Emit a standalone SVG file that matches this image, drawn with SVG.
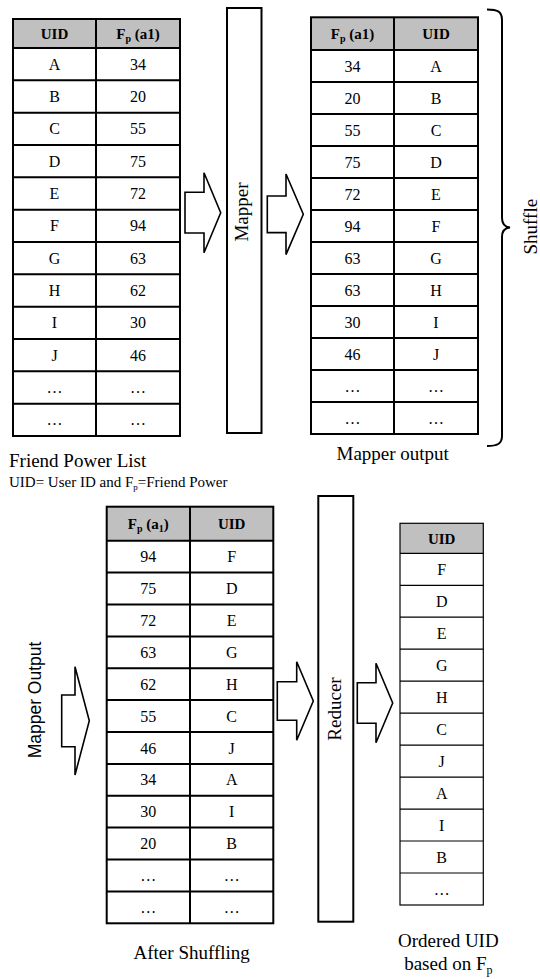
<svg xmlns="http://www.w3.org/2000/svg" width="540" height="979" viewBox="0 0 540 979">
<style>
text{font-family:"Liberation Serif","Times New Roman",serif;fill:#000}
.c{font-size:16px;text-anchor:middle}
.h{font-size:15px;font-weight:bold;text-anchor:middle}
.lbl{font-size:19px}
.box{fill:#fff;stroke:#000;stroke-width:2}
.hd{fill:#c0c0c0;stroke:none}
.ln{stroke:#000;stroke-width:2;fill:none}
.ln1{stroke:#000;stroke-width:1.2;fill:none}
.arr{fill:#fff;stroke:#000;stroke-width:1.6;stroke-linejoin:miter}
</style>

<!-- Table 1: Friend Power List -->
<g id="table-friend-power">
  <rect x="13" y="19" width="167" height="29" class="hd"/>
  <rect x="13" y="19" width="167" height="417" class="ln"/>
  <path class="ln" d="M96 19V436 M13 48H180 M13 80.3H180 M13 112.7H180 M13 145H180 M13 177.3H180 M13 209.7H180 M13 242H180 M13 274.3H180 M13 306.7H180 M13 339H180 M13 371.3H180 M13 403.7H180"/>
  <text class="h" x="54.5" y="39">UID</text>
  <text class="h" x="138" y="39">F<tspan font-size="10" dy="3">p</tspan><tspan dy="-3"> (a1)</tspan></text>
  <text class="c" x="54.5" y="69.7">A</text><text class="c" x="138" y="69.7">34</text>
  <text class="c" x="54.5" y="102">B</text><text class="c" x="138" y="102">20</text>
  <text class="c" x="54.5" y="134.3">C</text><text class="c" x="138" y="134.3">55</text>
  <text class="c" x="54.5" y="166.7">D</text><text class="c" x="138" y="166.7">75</text>
  <text class="c" x="54.5" y="199">E</text><text class="c" x="138" y="199">72</text>
  <text class="c" x="54.5" y="231.3">F</text><text class="c" x="138" y="231.3">94</text>
  <text class="c" x="54.5" y="263.7">G</text><text class="c" x="138" y="263.7">63</text>
  <text class="c" x="54.5" y="296">H</text><text class="c" x="138" y="296">62</text>
  <text class="c" x="54.5" y="328.3">I</text><text class="c" x="138" y="328.3">30</text>
  <text class="c" x="54.5" y="360.7">J</text><text class="c" x="138" y="360.7">46</text>
  <text class="c" x="54.5" y="393">…</text><text class="c" x="138" y="393">…</text>
  <text class="c" x="54.5" y="425.3">…</text><text class="c" x="138" y="425.3">…</text>
</g>
<g id="label-friend-power">
  <text class="lbl" x="9" y="467">Friend Power List</text>
  <text x="9" y="486.5" font-size="15">UID= User ID and F<tspan font-size="9" dy="3">p</tspan><tspan dy="-3">=Friend Power</tspan></text>
</g>

<!-- Mapper -->
<g id="mapper">
  <rect x="227" y="8" width="34.5" height="425" class="box"/>
  <text class="lbl" transform="translate(248.3,212) rotate(-90)" text-anchor="middle">Mapper</text>
</g>

<!-- Table 2: Mapper output -->
<g id="table-mapper-output">
  <rect x="311" y="17.3" width="167" height="32.7" class="hd"/>
  <rect x="311" y="17.3" width="167" height="416.7" class="ln"/>
  <path class="ln" d="M394 17.3V434 M311 50H478 M311 82H478 M311 114H478 M311 146H478 M311 178H478 M311 210H478 M311 242H478 M311 274H478 M311 306H478 M311 338H478 M311 370H478 M311 402H478"/>
  <text class="h" x="352.5" y="39">F<tspan font-size="10" dy="3">p</tspan><tspan dy="-3"> (a1)</tspan></text>
  <text class="h" x="436" y="39">UID</text>
  <text class="c" x="352.5" y="71.5">34</text><text class="c" x="436" y="71.5">A</text>
  <text class="c" x="352.5" y="103.5">20</text><text class="c" x="436" y="103.5">B</text>
  <text class="c" x="352.5" y="135.5">55</text><text class="c" x="436" y="135.5">C</text>
  <text class="c" x="352.5" y="167.5">75</text><text class="c" x="436" y="167.5">D</text>
  <text class="c" x="352.5" y="199.5">72</text><text class="c" x="436" y="199.5">E</text>
  <text class="c" x="352.5" y="231.5">94</text><text class="c" x="436" y="231.5">F</text>
  <text class="c" x="352.5" y="263.5">63</text><text class="c" x="436" y="263.5">G</text>
  <text class="c" x="352.5" y="295.5">63</text><text class="c" x="436" y="295.5">H</text>
  <text class="c" x="352.5" y="327.5">30</text><text class="c" x="436" y="327.5">I</text>
  <text class="c" x="352.5" y="359.5">46</text><text class="c" x="436" y="359.5">J</text>
  <text class="c" x="352.5" y="391.5">…</text><text class="c" x="436" y="391.5">…</text>
  <text class="c" x="352.5" y="423.5">…</text><text class="c" x="436" y="423.5">…</text>
</g>
<g id="label-mapper-output">
  <text class="lbl" x="392.7" y="459.5" text-anchor="middle">Mapper output</text>
</g>

<!-- Shuffle brace -->
<g id="shuffle">
  <path class="ln" d="M487 9.5C497 9.5 502 11 502 20V218C502 224 505 227 510 227.5C505 228 502 231 502 237V436C502 444 497 446 487 446"/>
  <text class="lbl" transform="translate(536.5,226.7) rotate(-90)" text-anchor="middle">Shuffle</text>
</g>

<!-- Table 3: After Shuffling -->
<g id="table-after-shuffling">
  <rect x="106.7" y="506.7" width="166.6" height="34" class="hd"/>
  <rect x="106.7" y="506.7" width="166.6" height="416.6" class="ln"/>
  <path class="ln" d="M190 506.7V923.3 M106.7 540.7H273.3 M106.7 572.6H273.3 M106.7 604.5H273.3 M106.7 636.4H273.3 M106.7 668.2H273.3 M106.7 700.1H273.3 M106.7 732H273.3 M106.7 763.9H273.3 M106.7 795.8H273.3 M106.7 827.6H273.3 M106.7 859.5H273.3 M106.7 891.4H273.3"/>
  <text class="h" x="148.3" y="529">F<tspan font-size="10" dy="3">p</tspan><tspan dy="-3"> (a</tspan><tspan font-size="10" dy="3">1</tspan><tspan dy="-3">)</tspan></text>
  <text class="h" x="231.7" y="529">UID</text>
  <text class="c" x="148.3" y="562.1">94</text><text class="c" x="231.7" y="562.1">F</text>
  <text class="c" x="148.3" y="594">75</text><text class="c" x="231.7" y="594">D</text>
  <text class="c" x="148.3" y="625.9">72</text><text class="c" x="231.7" y="625.9">E</text>
  <text class="c" x="148.3" y="657.8">63</text><text class="c" x="231.7" y="657.8">G</text>
  <text class="c" x="148.3" y="689.7">62</text><text class="c" x="231.7" y="689.7">H</text>
  <text class="c" x="148.3" y="721.6">55</text><text class="c" x="231.7" y="721.6">C</text>
  <text class="c" x="148.3" y="753.5">46</text><text class="c" x="231.7" y="753.5">J</text>
  <text class="c" x="148.3" y="785.3">34</text><text class="c" x="231.7" y="785.3">A</text>
  <text class="c" x="148.3" y="817.2">30</text><text class="c" x="231.7" y="817.2">I</text>
  <text class="c" x="148.3" y="849.1">20</text><text class="c" x="231.7" y="849.1">B</text>
  <text class="c" x="148.3" y="881">…</text><text class="c" x="231.7" y="881">…</text>
  <text class="c" x="148.3" y="912.9">…</text><text class="c" x="231.7" y="912.9">…</text>
</g>
<g id="label-after-shuffling">
  <text class="lbl" x="191.7" y="959" text-anchor="middle">After Shuffling</text>
</g>

<!-- Mapper Output label (left) -->
<g id="label-mapper-output-left">
  <text transform="translate(41,700) rotate(-90)" text-anchor="middle" font-family="'Liberation Sans',Arial,sans-serif" font-size="17.5" style="font-family:'Liberation Sans',Arial,sans-serif">Mapper Output</text>
</g>

<!-- Reducer -->
<g id="reducer">
  <rect x="318.3" y="496" width="35" height="425.7" class="box"/>
  <text class="lbl" transform="translate(341,709) rotate(-90)" text-anchor="middle">Reducer</text>
</g>

<!-- Table 4: Ordered UID -->
<g id="table-ordered-uid">
  <rect x="400" y="523.3" width="83.3" height="30" class="hd"/>
  <rect x="400" y="523.3" width="83.3" height="381.7" class="ln1"/>
  <path class="ln1" d="M400 553.3H483.3 M400 585.3H483.3 M400 617.2H483.3 M400 649.2H483.3 M400 681.2H483.3 M400 713.1H483.3 M400 745.1H483.3 M400 777.1H483.3 M400 809.1H483.3 M400 841H483.3 M400 873H483.3"/>
  <text class="h" x="441.7" y="543.5">UID</text>
  <text class="c" x="441.7" y="574.8">F</text>
  <text class="c" x="441.7" y="606.7">D</text>
  <text class="c" x="441.7" y="638.7">E</text>
  <text class="c" x="441.7" y="670.7">G</text>
  <text class="c" x="441.7" y="702.6">H</text>
  <text class="c" x="441.7" y="734.6">C</text>
  <text class="c" x="441.7" y="766.6">J</text>
  <text class="c" x="441.7" y="798.6">A</text>
  <text class="c" x="441.7" y="830.5">I</text>
  <text class="c" x="441.7" y="862.5">B</text>
  <text class="c" x="441.7" y="894.5">…</text>
</g>
<g id="label-ordered-uid">
  <text class="lbl" x="448.3" y="947" text-anchor="middle">Ordered UID</text>
  <text class="lbl" x="448.3" y="970" text-anchor="middle">based on F<tspan font-size="12" dy="4">p</tspan></text>
</g>

<!-- Connectors (block arrows) -->
<g id="connectors">
  <path class="arr" d="M185 192.3H204V172.7L220.7 212.7L204 252.7V233H185Z"/>
  <path class="arr" d="M267.3 196H286V174L303.3 214.3L286 254.6V232.6H267.3Z"/>
  <path class="arr" d="M61.7 695H75V666.7L89.3 720.8L75 775V746.7H61.7Z"/>
  <path class="arr" d="M277.3 681.7H296.7V661.7L313.3 701L296.7 740.3V720.3H277.3Z"/>
  <path class="arr" d="M357.3 682.7H376V663.3L392.7 703L376 742.7V723.3H357.3Z"/>
</g>
</svg>
